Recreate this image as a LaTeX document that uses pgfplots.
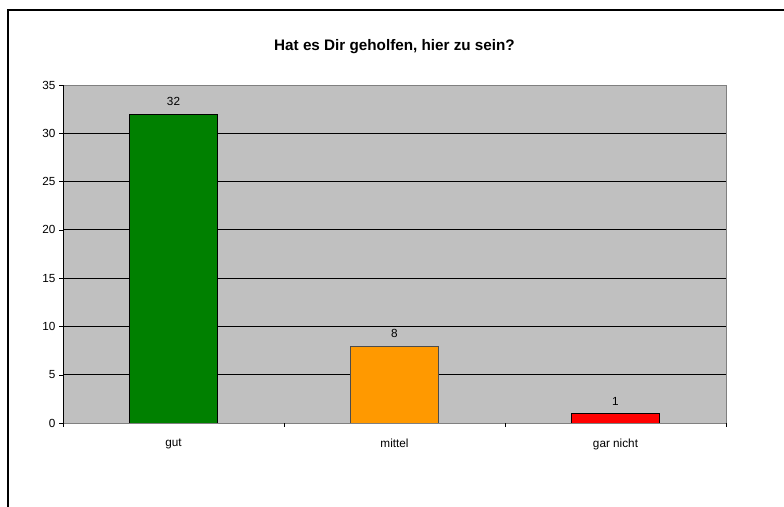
\documentclass[border=0pt]{standalone}
\usepackage{pgfplots}
\pgfplotsset{compat=1.18}
\usepackage{fontspec}
\setmainfont{Liberation Sans}
\definecolor{plotgray}{HTML}{C0C0C0}
\definecolor{bargreen}{HTML}{008000}
\definecolor{barorange}{HTML}{FF9900}
\definecolor{barred}{HTML}{FF0000}
\begin{document}
\begin{tikzpicture}[x=1bp,y=1bp]
\useasboundingbox (0,0) rectangle (784,507);
% outer chart frame (cut off on the right and bottom)
\draw[line width=1.6bp] (8,-20) -- (8,497) -- (820,497);
\node[font=\bfseries\fontsize{15.3}{17}\selectfont] at (394.5,460) {Hat es Dir geholfen, hier zu sein?};
\begin{axis}[
    at={(63bp,84bp)}, anchor=south west,
    scale only axis, width=663bp, height=338bp,
    xmin=-0.5, xmax=2.5, ymin=0, ymax=35,
    ytick={0,5,...,35},
    xtick={0,1,2}, xticklabels={gut,mittel,gar nicht},
    xtick pos=bottom, ytick pos=left,
    tick align=outside,
    major tick length=4bp,
    major x tick style={draw=none},
    extra x ticks={-0.5,0.5,1.5,2.5}, extra x tick labels={},
    extra x tick style={major x tick style={draw=black}, grid=none},
    ymajorgrids,
    major grid style={black, line width=0.8bp},
    axis line style={draw=black!50},
    axis background/.style={fill=plotgray},
    tick style={black},
    ticklabel style={font=\fontsize{11.8}{14}\selectfont},
    xticklabel style={yshift=-8bp},
    /pgf/number format/assume math mode=true,
    ybar, bar width=88bp, bar shift=0pt,
    nodes near coords,
    nodes near coords style={font=\fontsize{11.8}{14}\selectfont, anchor=south, yshift=4.5bp, black},
  ]
  \addplot[fill=bargreen, draw=black] coordinates {(0,32)};
  \addplot[fill=barorange, draw=black!70] coordinates {(1,8)};
  \addplot[fill=barred, draw=black] coordinates {(2,1)};
  \draw[black, line width=0.8bp] (rel axis cs:0,0) -- (rel axis cs:0,1);
  \draw[black!70, line width=0.8bp] (rel axis cs:0,0) -- (rel axis cs:1,0);
\end{axis}
\end{tikzpicture}
\end{document}
